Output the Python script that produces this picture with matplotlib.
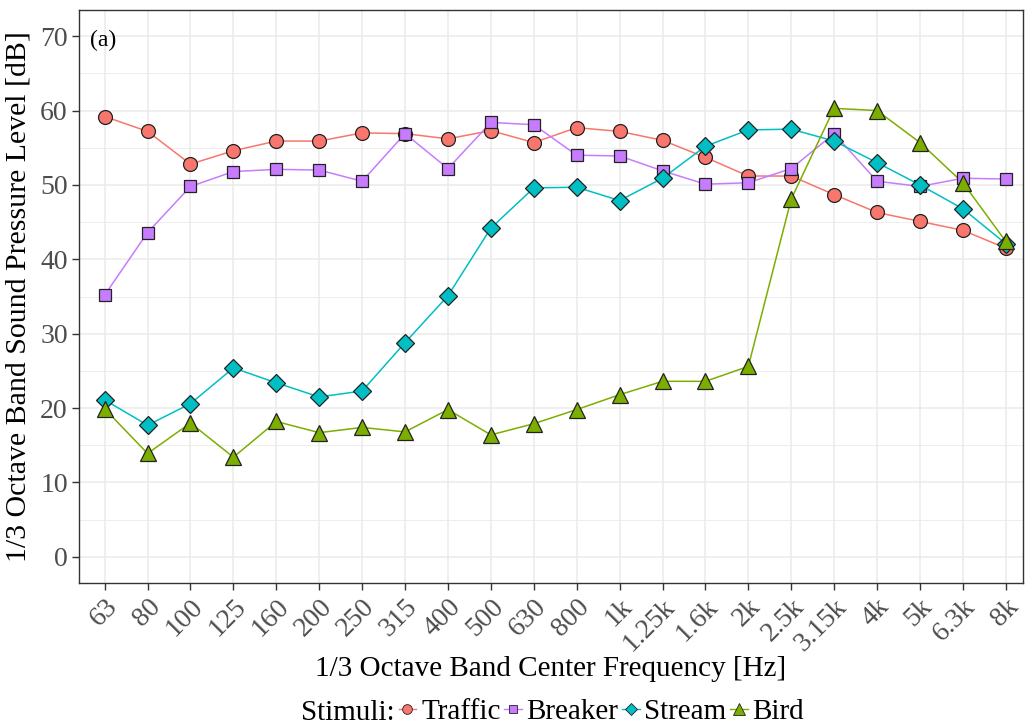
import numpy as np
import matplotlib.pyplot as plt
from matplotlib.lines import Line2D

plt.rcParams['font.family'] = ['Liberation Serif', 'DejaVu Serif']

bands = ['63', '80', '100', '125', '160', '200', '250', '315', '400', '500', '630',
         '800', '1k', '1.25k', '1.6k', '2k', '2.5k', '3.15k', '4k', '5k', '6.3k', '8k']

traffic = [59.2, 57.2, 52.8, 54.6, 55.9, 55.9, 57.0, 56.9, 56.2, 57.3, 55.7,
           57.7, 57.2, 56.0, 53.7, 51.2, 51.2, 48.7, 46.3, 45.1, 43.9, 41.5]
breaker = [35.2, 43.6, 49.8, 51.8, 52.1, 52.0, 50.5, 56.9, 52.2, 58.4, 58.1,
           54.0, 53.9, 51.9, 50.1, 50.3, 52.2, 56.9, 50.5, 49.8, 50.9, 50.8]
stream = [21.1, 17.7, 20.6, 25.4, 23.4, 21.5, 22.3, 28.8, 35.1, 44.2, 49.6,
          49.7, 47.9, 50.9, 55.2, 57.4, 57.5, 55.9, 53.0, 50.0, 46.8, 42.1]
bird = [19.9, 13.9, 18.0, 13.4, 18.2, 16.7, 17.4, 16.8, 19.8, 16.4, 17.9,
        19.8, 21.8, 23.6, 23.6, 25.6, 48.1, 60.3, 60.0, 55.7, 50.3, 42.4]

stimuli = ['Traffic', 'Breaker', 'Stream', 'Bird']
levels = [traffic, breaker, stream, bird]
colors = ['#F8766D', '#C77CFF', '#00BFC4', '#7CAE00']
markers = ['o', 's', 'D', '^']
sizes = [10, 9, 9, 11.5]


def spectrum():
    fig = plt.figure(figsize=(10.25, 7.25), dpi=100)
    ax = fig.add_axes([0.077, 0.196, 0.921, 0.790])
    x = np.arange(len(bands))

    for name, y, c, m, s in zip(stimuli, levels, colors, markers, sizes):
        ax.plot(x, y, c=c, linewidth=1.1, zorder=2)
        ax.plot(x, y, linestyle='none', marker=m, markersize=s, markerfacecolor=c,
                markeredgecolor='#222222', markeredgewidth=0.9, zorder=3)

    ax.set_xlim(-0.6, len(bands) - 0.6)
    ax.set_ylim(-3.5, 73.5)
    ax.set_yticks(np.arange(0, 71, 10))
    ax.set_yticks(np.arange(5, 71, 10), minor=True)
    ax.set_xticks(x)
    ax.set_xticklabels(bands, rotation=45, ha='right', va='top', rotation_mode='anchor')

    ax.grid(True, which='major', color='#EBEBEB', linewidth=1.1, zorder=0)
    ax.grid(True, which='minor', axis='y', color='#EBEBEB', linewidth=0.6, zorder=0)
    ax.set_axisbelow(True)
    for sp in ax.spines.values():
        sp.set_color('#333333')
        sp.set_linewidth(1.0)
    ax.tick_params(axis='both', which='major', labelsize=20, labelcolor='#4D4D4D',
                   color='#333333', length=5, width=1.0, pad=3)
    ax.tick_params(axis='y', which='minor', length=0)

    ax.set_xlabel('1/3 Octave Band Center Frequency [Hz]', fontsize=21, labelpad=0)
    ax.set_ylabel('1/3 Octave Band Sound Pressure Level [dB]', fontsize=21.5, labelpad=6)
    ax.text(0.012, 0.965, '(a)', transform=ax.transAxes, fontsize=17, va='top', ha='left')

    # legend keys: small marker on a short line, title set as plain text to the left
    handles = [Line2D([], [], color=c, marker=m, markersize=s * 0.7, markerfacecolor=c,
                      markeredgecolor='#222222', markeredgewidth=0.6, linewidth=1.0)
               for c, m, s in zip(colors, markers, sizes)]
    fig.text(0.294, 0.0165, 'Stimuli:', fontsize=21, ha='left', va='center')
    fig.legend(handles, stimuli, loc='center left', bbox_to_anchor=(0.389, 0.0185),
               ncol=4, frameon=False, fontsize=21, handlelength=0.6, handletextpad=0.17,
               columnspacing=0.12, borderpad=0, borderaxespad=0)

    fig.savefig('out.png', dpi=100)


if __name__ == '__main__':
    spectrum()
